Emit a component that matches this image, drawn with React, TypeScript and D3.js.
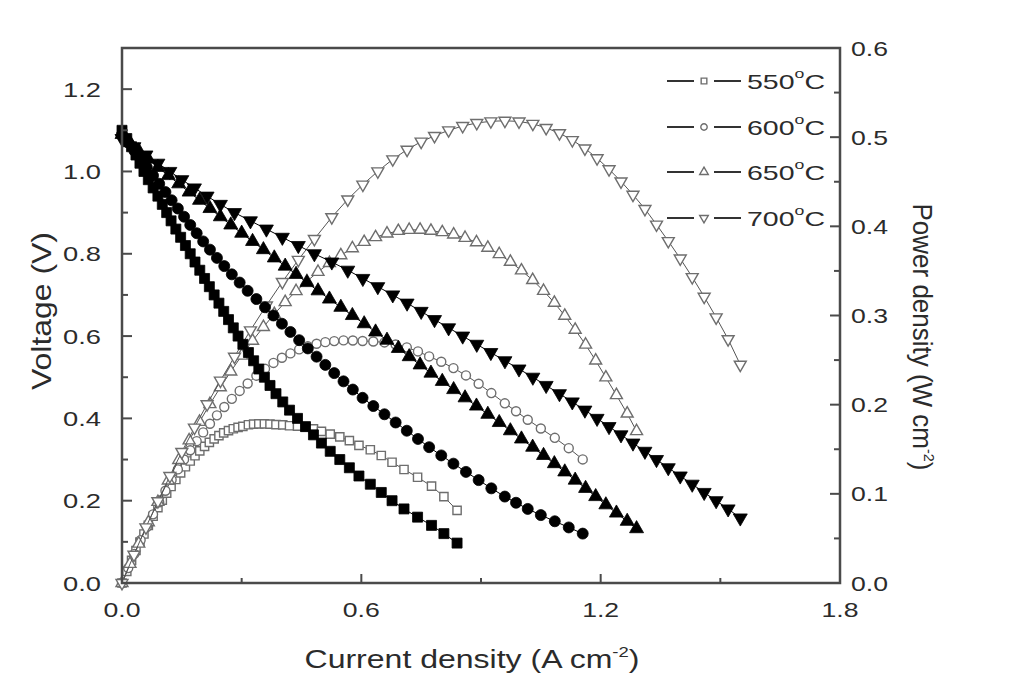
import React from 'react';
import * as d3 from 'd3';

// ---------- data ----------
const current550 = [0, 0.012, 0.024, 0.035, 0.045, 0.055, 0.066, 0.078, 0.09, 0.101, 0.112, 0.123, 0.135, 0.147, 0.159, 0.171, 0.183, 0.195, 0.207, 0.219, 0.231, 0.243, 0.255, 0.267, 0.279, 0.291, 0.303, 0.317, 0.33, 0.343, 0.357, 0.371, 0.386, 0.403, 0.42, 0.44, 0.46, 0.48, 0.50, 0.522, 0.546, 0.57, 0.594, 0.6225, 0.65, 0.677, 0.707, 0.741, 0.776, 0.807, 0.84];
const voltage550 = [1.10, 1.08, 1.06, 1.04, 1.02, 1.00, 0.98, 0.96, 0.94, 0.92, 0.90, 0.88, 0.86, 0.84, 0.82, 0.80, 0.78, 0.76, 0.74, 0.72, 0.70, 0.68, 0.66, 0.64, 0.62, 0.60, 0.58, 0.56, 0.54, 0.52, 0.50, 0.48, 0.46, 0.44, 0.42, 0.40, 0.38, 0.36, 0.34, 0.32, 0.30, 0.28, 0.26, 0.24, 0.22, 0.20, 0.18, 0.16, 0.14, 0.12, 0.097];
const power550 = [0, 0.013, 0.0254, 0.0364, 0.0459, 0.055, 0.0647, 0.0749, 0.0846, 0.0929, 0.1008, 0.1082, 0.1161, 0.1235, 0.1304, 0.1368, 0.1427, 0.1482, 0.1532, 0.1577, 0.1617, 0.1652, 0.1683, 0.1709, 0.173, 0.1746, 0.1757, 0.1775, 0.1782, 0.1784, 0.1785, 0.1781, 0.1776, 0.1773, 0.1764, 0.176, 0.1748, 0.1728, 0.17, 0.167, 0.1638, 0.1596, 0.1544, 0.1494, 0.143, 0.1354, 0.1273, 0.1186, 0.1086, 0.0968, 0.0815];

const current600 = [0, 0.0156, 0.0311, 0.0467, 0.0622, 0.0778, 0.0933, 0.1089, 0.1244, 0.14, 0.1556, 0.1711, 0.1872, 0.2035, 0.2205, 0.238, 0.2564, 0.2753, 0.295, 0.315, 0.3369, 0.3585, 0.3797, 0.4009, 0.4222, 0.4441, 0.4659, 0.4878, 0.5097, 0.532, 0.5553, 0.5787, 0.6031, 0.63, 0.658, 0.686, 0.714, 0.742, 0.77, 0.8004, 0.8309, 0.8623, 0.8941, 0.9259, 0.9597, 0.9878, 1.0172, 1.05, 1.085, 1.12, 1.155];
const voltage600 = [1.09, 1.07, 1.05, 1.03, 1.01, 0.99, 0.97, 0.95, 0.93, 0.91, 0.89, 0.87, 0.85, 0.83, 0.81, 0.79, 0.77, 0.75, 0.73, 0.71, 0.69, 0.67, 0.65, 0.63, 0.61, 0.59, 0.57, 0.55, 0.53, 0.51, 0.49, 0.47, 0.45, 0.43, 0.41, 0.39, 0.37, 0.35, 0.33, 0.31, 0.29, 0.27, 0.25, 0.23, 0.21, 0.195, 0.18, 0.165, 0.15, 0.135, 0.12];
const power600 = [0, 0.0167, 0.0327, 0.0481, 0.0628, 0.077, 0.0905, 0.1035, 0.1157, 0.1274, 0.1385, 0.1489, 0.1591, 0.1689, 0.1786, 0.188, 0.1974, 0.2065, 0.2154, 0.2237, 0.2325, 0.2402, 0.2468, 0.2526, 0.2575, 0.262, 0.2656, 0.2683, 0.2701, 0.2713, 0.2721, 0.272, 0.2714, 0.2709, 0.2698, 0.2675, 0.2642, 0.2597, 0.2541, 0.2481, 0.241, 0.2328, 0.2235, 0.213, 0.2015, 0.1926, 0.1831, 0.1733, 0.1628, 0.1512, 0.1386];

const current650 = [0, 0.02, 0.042, 0.066, 0.09, 0.1161, 0.1422, 0.1683, 0.1943, 0.2204, 0.2465, 0.2727, 0.30, 0.3273, 0.3545, 0.3818, 0.4091, 0.4364, 0.4636, 0.4914, 0.52, 0.5486, 0.5775, 0.6071, 0.6357, 0.6643, 0.6927, 0.72, 0.7473, 0.7745, 0.8029, 0.8314, 0.86, 0.8886, 0.9171, 0.9457, 0.9736, 1.0014, 1.0295, 1.0568, 1.0839, 1.11, 1.1361, 1.1622, 1.1875, 1.213, 1.2395, 1.2665, 1.29];
const voltage650 = [1.09, 1.07, 1.05, 1.03, 1.01, 0.99, 0.97, 0.95, 0.93, 0.91, 0.89, 0.87, 0.85, 0.83, 0.81, 0.79, 0.77, 0.75, 0.73, 0.71, 0.69, 0.67, 0.65, 0.63, 0.61, 0.59, 0.57, 0.55, 0.53, 0.51, 0.49, 0.47, 0.45, 0.43, 0.41, 0.39, 0.37, 0.35, 0.33, 0.31, 0.29, 0.27, 0.25, 0.23, 0.21, 0.19, 0.17, 0.15, 0.132];
const power650 = [0, 0.0214, 0.0441, 0.068, 0.0909, 0.1149, 0.1379, 0.1599, 0.1807, 0.2006, 0.2194, 0.2372, 0.255, 0.2717, 0.2871, 0.3016, 0.315, 0.3273, 0.3384, 0.3489, 0.3588, 0.3676, 0.3754, 0.3825, 0.3878, 0.3919, 0.3948, 0.396, 0.3961, 0.395, 0.3934, 0.3908, 0.387, 0.3821, 0.376, 0.3688, 0.3602, 0.3505, 0.3397, 0.3276, 0.3143, 0.2997, 0.284, 0.2673, 0.2494, 0.2305, 0.2107, 0.19, 0.1703];

const current700 = [0, 0.03, 0.06, 0.09, 0.12, 0.15, 0.1816, 0.2133, 0.2467, 0.282, 0.322, 0.362, 0.402, 0.442, 0.4823, 0.526, 0.566, 0.6038, 0.6413, 0.6788, 0.7147, 0.75, 0.7835, 0.8188, 0.8541, 0.8894, 0.9247, 0.96, 0.9953, 1.03, 1.0633, 1.0967, 1.1289, 1.1605, 1.191, 1.221, 1.251, 1.281, 1.311, 1.34, 1.3695, 1.3995, 1.4295, 1.4595, 1.4895, 1.5195, 1.55];
const voltage700 = [1.08, 1.06, 1.04, 1.02, 1.00, 0.98, 0.96, 0.94, 0.92, 0.90, 0.88, 0.86, 0.84, 0.82, 0.80, 0.78, 0.76, 0.74, 0.72, 0.70, 0.68, 0.66, 0.64, 0.62, 0.60, 0.58, 0.56, 0.54, 0.52, 0.50, 0.48, 0.46, 0.44, 0.42, 0.40, 0.38, 0.36, 0.34, 0.32, 0.30, 0.28, 0.26, 0.24, 0.22, 0.20, 0.18, 0.158];
const power700 = [0, 0.0318, 0.0624, 0.0918, 0.12, 0.147, 0.1743, 0.2005, 0.227, 0.2538, 0.2834, 0.3113, 0.3377, 0.3624, 0.3858, 0.4103, 0.4302, 0.4468, 0.4617, 0.4752, 0.486, 0.495, 0.5014, 0.5077, 0.5125, 0.5159, 0.5178, 0.5184, 0.5176, 0.515, 0.5104, 0.5045, 0.4967, 0.4874, 0.4764, 0.464, 0.4504, 0.4355, 0.4195, 0.402, 0.3835, 0.3639, 0.3431, 0.3211, 0.2979, 0.2735, 0.2449];

const legendLabels = ['550', '600', '650', '700'];
const xTicks = [0, 0.6, 1.2, 1.8];
const xMinorTicks = [0.3, 0.9, 1.5];
const vTicks = [0, 0.2, 0.4, 0.6, 0.8, 1.0, 1.2];
const vMinorTicks = [0.1, 0.3, 0.5, 0.7, 0.9, 1.1];
const pTicks = [0, 0.1, 0.2, 0.3, 0.4, 0.5, 0.6];
const pMinorTicks = [0.05, 0.15, 0.25, 0.35, 0.45, 0.55];

type SymKind = 'square' | 'circle' | 'up' | 'down';
const kinds: SymKind[] = ['square', 'circle', 'up', 'down'];

const FONT = '"Liberation Sans", Arial, Helvetica, sans-serif';
const TXT = '#2b2b2b';
const AXIS = '#4a4a4a';

function symPath(kind: SymKind, size: number): string {
  const t = kind === 'square' ? d3.symbolSquare : kind === 'circle' ? d3.symbolCircle : d3.symbolTriangle;
  return d3.symbol().type(t).size(size)() || '';
}

export default function App() {
  const L = 122, R = 840, T = 48, B = 583;
  const x = d3.scaleLinear().domain([0, 1.8]).range([L, R]);
  const yV = d3.scaleLinear().domain([0, 1.3]).range([B, T]);
  const yP = d3.scaleLinear().domain([0, 0.6]).range([B, T]);

  const series = [
    { label: legendLabels[0], I: current550, V: voltage550, P: power550, kind: kinds[0] },
    { label: legendLabels[1], I: current600, V: voltage600, P: power600, kind: kinds[1] },
    { label: legendLabels[2], I: current650, V: voltage650, P: power650, kind: kinds[2] },
    { label: legendLabels[3], I: current700, V: voltage700, P: power700, kind: kinds[3] },
  ];

  const filledSize: Record<SymKind, number> = { square: 100, circle: 95, up: 85, down: 85 };
  const openSize: Record<SymKind, number> = { square: 68, circle: 64, up: 62, down: 62 };

  const marker = (kind: SymKind, size: number, cx: number, cy: number, filled: boolean, key: string) => (
    <path
      key={key}
      d={symPath(kind, size)}
      transform={`translate(${cx},${cy})${kind === 'down' ? ' rotate(180)' : ''}`}
      fill={filled ? '#000' : '#fff'}
      stroke={filled ? '#000' : '#6e6e6e'}
      strokeWidth={filled ? 0.8 : 1.4}
    />
  );

  const lineV = (s: any) => d3.line<number>().x((_, i) => x(s.I[i])).y((v) => yV(v))(s.V) || '';
  const lineP = (s: any) => d3.line<number>().x((_, i) => x(s.I[i])).y((p) => yP(p))(s.P) || '';

  const fmt = d3.format('.1f');
  const legendY = [81, 127, 172, 218];

  return (
    <svg width={1030} height={695} style={{ position: 'absolute', left: 0, top: 0, background: '#fff' }} fontFamily={FONT}>
      <rect x={0} y={0} width={1030} height={695} fill="#fff" />

      {/* power curves (open markers) */}
      {series.map((s) => (
        <g key={'p' + s.label}>
          <path d={lineP(s)} fill="none" stroke="#555" strokeWidth={1} />
          {s.P.map((p, i) => marker(s.kind, openSize[s.kind], x(s.I[i]), yP(p), false, 'pm' + s.label + i))}
        </g>
      ))}
      {/* voltage curves (filled markers) */}
      {series.map((s) => (
        <g key={'v' + s.label}>
          <path d={lineV(s)} fill="none" stroke="#000" strokeWidth={1} />
          {s.V.map((v, i) => marker(s.kind, filledSize[s.kind], x(s.I[i]), yV(v), true, 'vm' + s.label + i))}
        </g>
      ))}

      {/* frame */}
      <rect x={L} y={T} width={R - L} height={B - T} fill="none" stroke={AXIS} strokeWidth={2.5} />

      {/* bottom ticks */}
      {xTicks.map((t) => (
        <g key={'xt' + t}>
          <line x1={x(t)} x2={x(t)} y1={B} y2={B - 9} stroke={AXIS} strokeWidth={2} />
          <text x={x(t)} y={617} textAnchor="middle" fontSize={21} fill={TXT} textLength={37} lengthAdjust="spacingAndGlyphs">{fmt(t)}</text>
        </g>
      ))}
      {xMinorTicks.map((t) => (
        <line key={'xm' + t} x1={x(t)} x2={x(t)} y1={B} y2={B - 5} stroke={AXIS} strokeWidth={2} />
      ))}

      {/* left ticks */}
      {vTicks.map((t) => (
        <g key={'vt' + t}>
          <line x1={L} x2={L + 10} y1={yV(t)} y2={yV(t)} stroke={AXIS} strokeWidth={2} />
          <text x={101} y={yV(t) + 7.5} textAnchor="end" fontSize={21} fill={TXT} textLength={38} lengthAdjust="spacingAndGlyphs">{fmt(t)}</text>
        </g>
      ))}
      {vMinorTicks.map((t) => (
        <line key={'vm' + t} x1={L} x2={L + 6} y1={yV(t)} y2={yV(t)} stroke={AXIS} strokeWidth={2} />
      ))}

      {/* right ticks */}
      {pTicks.map((t) => (
        <g key={'pt' + t}>
          <line x1={R} x2={R - 10} y1={yP(t)} y2={yP(t)} stroke={AXIS} strokeWidth={2} />
          <text x={851} y={yP(t) + 7.5} textAnchor="start" fontSize={21} fill={TXT} textLength={37} lengthAdjust="spacingAndGlyphs">{fmt(t)}</text>
        </g>
      ))}
      {pMinorTicks.map((t) => (
        <line key={'pm' + t} x1={R} x2={R - 6} y1={yP(t)} y2={yP(t)} stroke={AXIS} strokeWidth={2} />
      ))}

      {/* axis titles */}
      <text x={472} y={668} textAnchor="middle" fontSize={26} fill={TXT} textLength={335} lengthAdjust="spacingAndGlyphs">
        Current density (A cm<tspan fontSize={15} dy={-11}>-2</tspan><tspan dy={11}>)</tspan>
      </text>
      <text transform="translate(51,311) rotate(-90)" textAnchor="middle" fontSize={28} fill={TXT} textLength={158} lengthAdjust="spacingAndGlyphs">
        Voltage (V)
      </text>
      <text transform="translate(913,337) rotate(90)" textAnchor="middle" fontSize={27} fill={TXT} textLength={267} lengthAdjust="spacingAndGlyphs">
        Power density (W cm<tspan fontSize={15} dy={-11}>-2</tspan><tspan dy={11}>)</tspan>
      </text>

      {/* legend */}
      {series.map((s, i) => {
        const ly = legendY[i];
        return (
          <g key={'lg' + s.label}>
            <line x1={667} x2={694} y1={ly} y2={ly} stroke="#333" strokeWidth={2} />
            {marker(s.kind, 32, 704, ly, false, 'lm' + i)}
            <line x1={714} x2={741} y1={ly} y2={ly} stroke="#333" strokeWidth={2} />
            <text x={747} y={ly + 8} fontSize={21} fill={TXT} textLength={78} lengthAdjust="spacingAndGlyphs">
              {s.label}<tspan fontSize={13} dy={-11}>o</tspan><tspan dy={11}>C</tspan>
            </text>
          </g>
        );
      })}
    </svg>
  );
}
